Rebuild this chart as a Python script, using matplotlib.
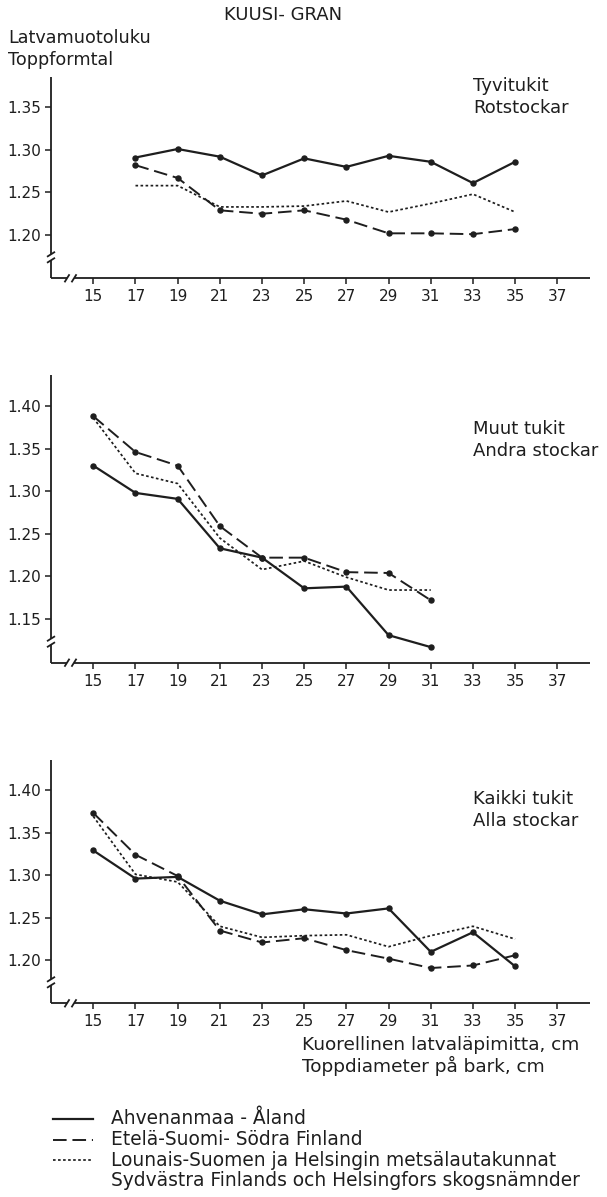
import matplotlib
matplotlib.use("Agg")
import matplotlib.pyplot as plt

# data (top form quotient by top diameter)
x_tyvi = [17, 19, 21, 23, 25, 27, 29, 31, 33, 35]
aland_tyvi = [1.291, 1.301, 1.292, 1.270, 1.290, 1.280, 1.293, 1.286, 1.261, 1.286]
sodra_tyvi = [1.282, 1.267, 1.229, 1.225, 1.229, 1.218, 1.202, 1.202, 1.201, 1.207]
lounais_tyvi = [1.258, 1.258, 1.233, 1.233, 1.234, 1.240, 1.227, 1.237, 1.248, 1.227]

x_muut = [15, 17, 19, 21, 23, 25, 27, 29, 31]
aland_muut = [1.330, 1.298, 1.291, 1.233, 1.222, 1.186, 1.188, 1.131, 1.117]
sodra_muut = [1.388, 1.346, 1.330, 1.259, 1.222, 1.222, 1.205, 1.204, 1.172]
lounais_muut = [1.386, 1.321, 1.309, 1.245, 1.208, 1.218, 1.199, 1.184, 1.184]

x_kaikki = [15, 17, 19, 21, 23, 25, 27, 29, 31, 33, 35]
aland_kaikki = [1.329, 1.296, 1.298, 1.270, 1.254, 1.260, 1.255, 1.261, 1.210, 1.233, 1.193]
sodra_kaikki = [1.373, 1.324, 1.299, 1.235, 1.221, 1.226, 1.212, 1.202, 1.191, 1.194, 1.206]
lounais_kaikki = [1.369, 1.301, 1.292, 1.240, 1.227, 1.229, 1.230, 1.216, 1.229, 1.240, 1.225]

x_ticks = list(range(15, 38, 2))
y_ticks_tyvi = [1.20, 1.25, 1.30, 1.35]
y_ticks_muut = [1.15, 1.20, 1.25, 1.30, 1.35, 1.40]
y_ticks_kaikki = [1.20, 1.25, 1.30, 1.35, 1.40]

panel_names = [("Tyvitukit", "Rotstockar"), ("Muut tukit", "Andra stockar"), ("Kaikki tukit", "Alla stockar")]
legend_labels = ["Ahvenanmaa - Åland", "Etelä-Suomi- Södra Finland",
                 "Lounais-Suomen ja Helsingin metsälautakunnat",
                 "Sydvästra Finlands och Helsingfors skogsnämnder"]

INK = "#1e1e1e"
W, H = 607, 1197
plt.rcParams["font.family"] = ["DejaVu Sans"]

fig = plt.figure(figsize=(W / 100, H / 100), dpi=100)


def px(x, y):
    return x / W, 1 - y / H


def draw_series(ax, x, a, s, l):
    ax.plot(x, a, color=INK, lw=1.6, marker="o", ms=3.6)
    ax.plot(x, s, color=INK, lw=1.4, marker="o", ms=3.6, dashes=(7, 3))
    ax.plot(x, l, color=INK, lw=1.25, dashes=(1.5, 1.4))


def frame(ax):
    for sp in ax.spines.values():
        sp.set_visible(False)
    wpx, hpx = ax.bbox.width, ax.bbox.height
    kw = dict(color=INK, lw=1.3, transform=ax.transAxes, clip_on=False, solid_capstyle="butt")
    # y axis with break
    ax.plot([0, 0], [1, 24 / hpx], **kw)
    ax.plot([0, 0], [18 / hpx, 0], **kw)
    for yb in (24, 18):
        ax.plot([-4 / wpx, 4 / wpx], [(yb - 2.5) / hpx, (yb + 2.5) / hpx], **kw)
    # x axis with break
    ax.plot([0, 16 / wpx], [0, 0], **kw)
    ax.plot([23 / wpx, 1], [0, 0], **kw)
    for xb in (16, 23):
        ax.plot([(xb - 2.5) / wpx, (xb + 2.5) / wpx], [-4 / hpx, 4 / hpx], **kw)


panels = [
    (76.7, 278.3, (1.1492, 1.3859), y_ticks_tyvi, x_tyvi, aland_tyvi, sodra_tyvi, lounais_tyvi, 97),
    (375.0, 662.7, (1.0987, 1.4364), y_ticks_muut, x_muut, aland_muut, sodra_muut, lounais_muut, 440),
    (760.0, 1003.3, (1.1496, 1.4352), y_ticks_kaikki, x_kaikki, aland_kaikki, sodra_kaikki, lounais_kaikki, 810),
]

for i, (top, bot, ylim, yt, x, a, s, l, ty) in enumerate(panels):
    ax = fig.add_axes([51 / W, 1 - bot / H, (590 - 51) / W, (bot - top) / H])
    ax.set_facecolor("none")
    draw_series(ax, x, a, s, l)
    ax.set_xlim(12.994, 38.55)
    ax.set_ylim(*ylim)
    ax.set_xticks(x_ticks)
    ax.set_yticks(yt)
    ax.set_yticklabels([f"{v:.2f}" for v in yt])
    ax.tick_params(axis="both", direction="out", length=4, width=1.1, color=INK,
                   labelcolor=INK, labelsize=11)
    ax.tick_params(axis="y", pad=3)
    ax.tick_params(axis="x", pad=4)
    frame(ax)
    name1, name2 = panel_names[i]
    fig.text(*px(473, ty - 11), name1, fontsize=13, color=INK, va="center", ha="left")
    fig.text(*px(473, ty + 11), name2, fontsize=13, color=INK, va="center", ha="left")

fig.text(*px(283, 15), "KUUSI- GRAN", fontsize=13, color=INK, ha="center", va="center")
fig.text(*px(8, 38), "Latvamuotoluku", fontsize=12.7, color=INK, ha="left", va="center")
fig.text(*px(8, 60), "Toppformtal", fontsize=12.7, color=INK, ha="left", va="center")

fig.text(*px(302, 1045), "Kuorellinen latvaläpimitta, cm", fontsize=13.3, color=INK, ha="left", va="center")
fig.text(*px(302, 1066), "Toppdiameter på bark, cm", fontsize=13.3, color=INK, ha="left", va="center")

# legend drawn by hand, like the original
leg_y = [1119, 1139.5, 1160, 1180]
styles = [dict(lw=1.6), dict(lw=1.4, dashes=(7, 3)), dict(lw=1.25, dashes=(1.5, 1.4))]
for yy, st in zip(leg_y[:3], styles):
    x0, y0 = px(53, yy)
    x1, _ = px(93, yy)
    fig.add_artist(plt.Line2D([x0, x1], [y0, y0], color=INK, transform=fig.transFigure, **st))
for yy, lab in zip(leg_y, legend_labels):
    fig.text(*px(111, yy), lab, fontsize=13.4, color=INK, ha="left", va="center")

fig.savefig("out.png", dpi=100)
